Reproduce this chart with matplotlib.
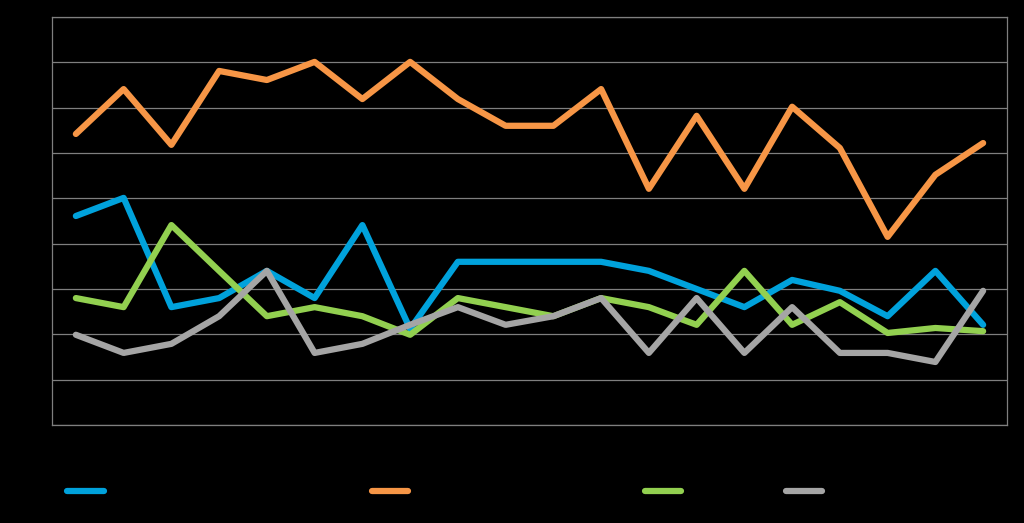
import numpy as np
import matplotlib
matplotlib.use("Agg")
from matplotlib import pyplot as plt

categories = list(range(1, 21))

series_blue = [4.61, 5.01, 2.60, 2.80, 3.40, 2.80, 4.41, 2.12, 3.60, 3.60,
               3.60, 3.60, 3.40, 3.00, 2.60, 3.20, 2.96, 2.40, 3.40, 2.21]
series_orange = [6.42, 7.41, 6.18, 7.81, 7.61, 8.01, 7.19, 8.01, 7.19, 6.60,
                 6.60, 7.41, 5.21, 6.82, 5.21, 7.02, 6.11, 4.15, 5.52, 6.22]
series_green = [2.80, 2.60, 4.41, 3.40, 2.40, 2.60, 2.40, 1.99, 2.80, 2.60,
                2.40, 2.80, 2.60, 2.21, 3.40, 2.21, 2.71, 2.03, 2.14, 2.07]
series_gray = [1.99, 1.59, 1.79, 2.40, 3.40, 1.59, 1.79, 2.21, 2.60, 2.21,
               2.40, 2.80, 1.59, 2.80, 1.59, 2.60, 1.59, 1.59, 1.39, 2.96]

colors = ["#00A2DC", "#F79646", "#92D050", "#A5A5A5"]
legend_x = [85.5 / 1024, 390 / 1024, 663 / 1024, 804 / 1024]

fig = plt.figure(figsize=(10.24, 5.23), dpi=100, facecolor="black")
ax = fig.add_axes([52 / 1024, 1 - 425 / 523, 955 / 1024, 408 / 523])
ax.set_facecolor("black")

x = np.arange(len(categories))
lines = []
for ys, c in zip([series_blue, series_orange, series_green, series_gray], colors):
    ln, = ax.plot(x, ys, color=c, lw=4.5, solid_capstyle="round", solid_joinstyle="round")
    lines.append(ln)

ax.set_xlim(-0.5, len(categories) - 0.5)
ax.set_ylim(0, 9)
ax.set_yticks(range(0, 10))
ax.grid(axis="y", color="#7f7f7f", lw=0.9)
ax.set_axisbelow(True)
ax.tick_params(left=False, bottom=False, labelleft=False, labelbottom=False)
for s in ax.spines.values():
    s.set_color("#7f7f7f")
    s.set_linewidth(0.9)

for ln, lx in zip(lines, legend_x):
    fig.legend(handles=[ln], labels=[""], loc="center", bbox_to_anchor=(lx, 31 / 523),
               frameon=False, handlelength=2.6, handletextpad=0, borderpad=0,
               borderaxespad=0)

fig.savefig("out.png", dpi=100, facecolor="black")
